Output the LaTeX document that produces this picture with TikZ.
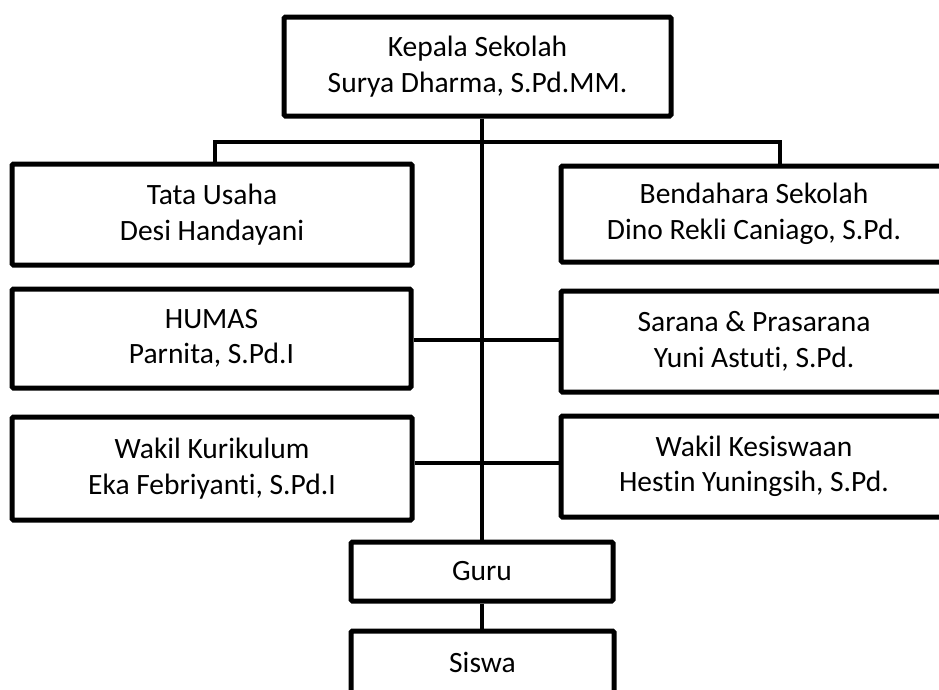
\documentclass[tikz,border=0pt]{standalone}
\usepackage{fontspec}
\setmainfont{Carlito}[Ligatures={NoCommon}]
\begin{document}
\begin{tikzpicture}[x=1pt,y=-1pt,
  box/.style={draw=black, line width=5pt, rounded corners=1.5pt, fill=white, rectangle, inner sep=0pt,
    align=center, font=\fontsize{29.5}{35.5}\selectfont},
  conn/.style={draw=black, line width=4.5pt}]
\useasboundingbox (0,0) rectangle (939,689);
\clip (0,0) rectangle (939,689);
% boxes
\node[box, minimum width=387pt, minimum height=99pt] (kepala) at (477.5,66.5) {Kepala Sekolah\\Surya Dharma, S.Pd.MM.};
\node[box, minimum width=400pt, minimum height=101pt] (tata) at (212,214.5) {Tata Usaha\\Desi Handayani};
\node[box, minimum width=399pt, minimum height=99pt] (humas) at (211.5,338.5) {HUMAS\\Parnita, S.Pd.I};
\node[box, minimum width=400pt, minimum height=103pt] (kurikulum) at (212,468.5) {Wakil Kurikulum\\Eka Febriyanti, S.Pd.I};
\node[box, minimum width=386pt, minimum height=96pt] (bendahara) at (754,214) {Bendahara Sekolah\\Dino Rekli Caniago, S.Pd.};
\node[box, minimum width=386pt, minimum height=101pt] (sarana) at (754,341.5) {Sarana \& Prasarana\\Yuni Astuti, S.Pd.};
\node[box, minimum width=386pt, minimum height=101pt] (kesiswaan) at (754,466.5) {Wakil Kesiswaan\\Hestin Yuningsih, S.Pd.};
\node[box, minimum width=262pt, minimum height=59pt] (guru) at (482,571.5) {Guru};
\node[box, minimum width=263pt, minimum height=62pt] (siswa) at (482.5,662) {Siswa};
% connector helper coordinates
\coordinate (bl) at (215,142);
\coordinate (br) at (780,142);
\coordinate (r1) at (0,340);
\coordinate (r2) at (0,463);
% connectors
\draw[conn] (kepala.south -| guru.north) -- (guru.north);
\draw[conn] (guru.south) -- (siswa.north -| guru.south);
\draw[conn] (bl |- tata.north) -- (bl) -- (br) -- (br |- bendahara.north);
\draw[conn] (humas.east |- r1) -- (sarana.west |- r1);
\draw[conn] (kurikulum.east |- r2) -- (kesiswaan.west |- r2);
\end{tikzpicture}
\end{document}
